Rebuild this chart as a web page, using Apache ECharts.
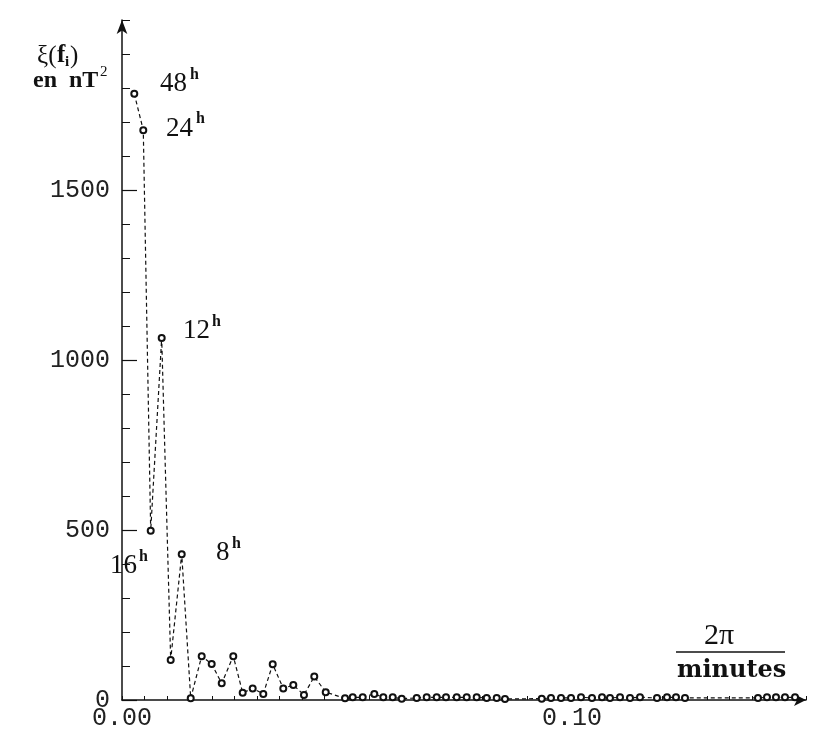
<!DOCTYPE html>
<html>
<head>
<meta charset="utf-8">
<script src="https://cdn.jsdelivr.net/npm/echarts@6/dist/echarts.min.js"></script>
<style>
  html, body { margin: 0; padding: 0; background: #fff; }
  #chart { width: 817px; height: 740px; }
</style>
</head>
<body>
<div id="chart"></div>
<script>
// Frequencies (2π / minutes)
const freqs = [
  0.00273, 0.00473, 0.00638, 0.00882, 0.01082, 0.01327, 0.01527, 0.01771,
  0.01993, 0.02216, 0.02473, 0.02682, 0.02904, 0.03140, 0.03349, 0.03584,
  0.03807, 0.04044, 0.04273, 0.04527, 0.04956, 0.05127, 0.05349, 0.05607,
  0.05807, 0.06016, 0.06216, 0.06549, 0.06771, 0.06993, 0.07200, 0.07438,
  0.07660, 0.07882, 0.08104, 0.08327, 0.08511, 0.09327, 0.09533, 0.09756,
  0.09978, 0.10200, 0.10444, 0.10667, 0.10844, 0.11067, 0.11289, 0.11511,
  0.11889, 0.12111, 0.12311, 0.12511, 0.14133, 0.14333, 0.14533, 0.14733,
  0.14956
];
// ξ(f_i) in nT²
const power = [
  1783, 1676, 498, 1065, 118, 429, 5, 129,
  106, 49, 129, 21, 34, 18, 105, 34,
  44, 15, 69, 23, 5, 8, 8, 18,
  8, 8, 4, 6, 8, 8, 8, 8,
  8, 8, 6, 6, 3, 4, 6, 6,
  6, 8, 6, 8, 6, 8, 6, 8,
  6, 8, 8, 6, 6, 8, 8, 8,
  8
];
const yTickLabels = [0, 500, 1000, 1500];
const xTickLabels = [0, 0.10];
const periodLabels = ['48', '24', '12', '16', '8'];

const chart = echarts.init(document.getElementById('chart'), null, { renderer: 'canvas' });
const seriesData = freqs.map((f, i) => [f, power[i]]);
const ink = '#111';

function textEl(str, left, cy, size, bold, family) {
  return {
    type: 'text',
    style: {
      text: str, x: left, y: cy,
      fill: ink,
      font: (bold ? 'bold ' : '') + size + 'px ' + (family || '"Liberation Serif", serif'),
      align: 'left', verticalAlign: 'middle'
    }
  };
}

const graphics = [
  // period labels with superscript h
  textEl(periodLabels[0], 160, 84, 27), textEl('h', 190, 75, 16, true),
  textEl(periodLabels[1], 166, 129, 27), textEl('h', 196, 119, 16, true),
  textEl(periodLabels[2], 183, 331, 27), textEl('h', 212, 322, 16, true),
  textEl(periodLabels[3], 110, 566, 27), textEl('h', 139, 557, 16, true),
  textEl(periodLabels[4], 216, 553, 27), textEl('h', 232, 544, 16, true),
  // y-axis title
  textEl('ξ(', 37, 56, 25, false),
  textEl('f', 57, 56, 25, true),
  textEl('i', 65, 62, 15, true),
  textEl(')', 70, 56, 25, false),
  textEl('en  nT', 33, 81, 24, true),
  textEl('2', 100, 72, 15, false),
  // x-axis title
  textEl('2π', 704, 636, 30, false),
  {
    type: 'line',
    shape: { x1: 676, y1: 652, x2: 785, y2: 652 },
    style: { stroke: ink, lineWidth: 1.5 }
  },
  textEl('minutes', 677, 671, 24, true, '"DejaVu Serif", serif')
];

chart.setOption({
  animation: false,
  backgroundColor: '#fff',
  grid: { left: 122, top: 20, width: 684, height: 680, containLabel: false, outerBoundsMode: 'none' },
  xAxis: {
    type: 'value', min: 0, max: 0.152, interval: 0.005,
    axisLine: { show: true, symbol: ['none', 'arrow'], symbolSize: [9, 12], lineStyle: { color: ink, width: 1.5 } },
    axisTick: { show: true, inside: true, length: 4, lineStyle: { color: ink, width: 1 } },
    axisLabel: {
      color: '#222', fontFamily: '"Liberation Mono", monospace', fontSize: 25, margin: 6,
      formatter: v => {
        for (const t of xTickLabels) if (Math.abs(v - t) < 1e-7) return t.toFixed(2);
        return '';
      }
    },
    splitLine: { show: false }
  },
  yAxis: {
    type: 'value', min: 0, max: 2000, interval: 100,
    axisLine: { show: true, onZero: false, symbol: ['none', 'arrow'], symbolSize: [8, 14], lineStyle: { color: ink, width: 1.5 } },
    axisTick: { show: true, inside: true, length: 8, lineStyle: { color: ink, width: 1 } },
    axisLabel: {
      color: '#222', fontFamily: '"Liberation Mono", monospace', fontSize: 25, margin: 12,
      formatter: v => (yTickLabels.indexOf(Math.round(v)) >= 0 && Math.abs(v - Math.round(v)) < 1e-6) ? String(Math.round(v)) : ''
    },
    splitLine: { show: false }
  },
  series: [{
    type: 'line',
    data: seriesData,
    symbol: 'emptyCircle',
    symbolSize: 6,
    showAllSymbol: true,
    lineStyle: { color: ink, width: 1.2, type: [4, 3] },
    itemStyle: { color: ink, borderColor: ink, borderWidth: 1.5 },
    z: 3
  }],
  graphic: graphics
});

// longer major ticks at labelled values, positioned through the axis scale
const x0 = chart.convertToPixel({ xAxisIndex: 0 }, 0);
const majorTicks = yTickLabels.map(v => {
  const py = Math.round(chart.convertToPixel({ yAxisIndex: 0 }, v)) + 0.5;
  return {
    type: 'line',
    shape: { x1: x0, y1: py, x2: x0 + 15, y2: py },
    style: { stroke: ink, lineWidth: 1.2 }
  };
});
chart.setOption({ graphic: graphics.concat(majorTicks) });
</script>
</body>
</html>
